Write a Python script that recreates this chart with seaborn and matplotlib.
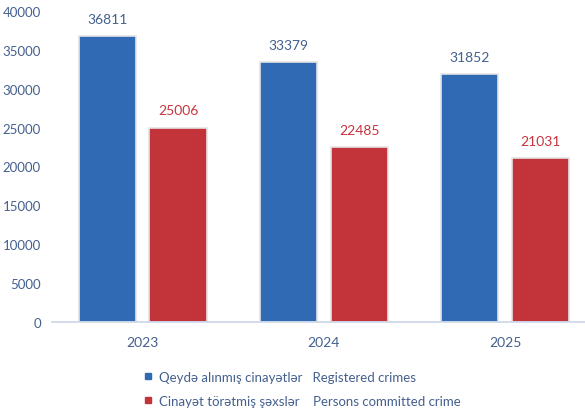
import matplotlib
matplotlib.use('Agg')
import matplotlib.pyplot as plt
from matplotlib.lines import Line2D
import numpy as np
import pandas as pd
import seaborn as sns

years = ['2023', '2024', '2025']
registered = [36811, 33379, 31852]
persons = [25006, 22485, 21031]
series_names = ['Qeydə alınmış cinayətlər   Registered crimes',
                'Cinayət törətmiş şəxslər    Persons committed crime']

df = pd.DataFrame({
    'year': years * 2,
    'value': registered + persons,
    'series': [series_names[0]] * 3 + [series_names[1]] * 3,
})

sns.set_style('white')
plt.rcParams['font.family'] = ['Lato', 'DejaVu Sans']

blue = '#316ab4'
red = '#c2343a'
text_blue = '#44608e'
text_red = '#c8343c'

fig = plt.figure(figsize=(5.85, 4.14), dpi=100)
ax = fig.add_axes([0.089, 0.22, 0.92, 0.751])

sns.barplot(data=df, x='year', y='value', hue='series', palette=[blue, red],
            saturation=1, width=0.78, gap=0.19, ax=ax, legend=False,
            edgecolor='#e4e4e4', linewidth=1.2)

for cont, col in zip(ax.containers, [text_blue, text_red]):
    ax.bar_label(cont, padding=8, color=col, fontsize=10)

ax.set_ylim(0, 40000)
ax.set_xlim(-0.5, 2.47)
ax.set_yticks(range(0, 40001, 5000))
ax.tick_params(axis='y', length=0, labelsize=9.5, labelcolor=text_blue, pad=8)
ax.tick_params(axis='x', length=0, labelsize=10, labelcolor=text_blue, pad=10)
ax.set_xlabel('')
ax.set_ylabel('')
for s in ['top', 'right', 'left']:
    ax.spines[s].set_visible(False)
ax.spines['bottom'].set_color('#c9d5e8')
ax.spines['bottom'].set_linewidth(1.2)

handles = [Line2D([], [], marker='s', linestyle='', color=c, markersize=5)
           for c in [blue, red]]
leg = fig.legend(handles, series_names, loc='center', bbox_to_anchor=(0.515, 0.058),
                 frameon=False, fontsize=9.5, labelspacing=0.9, handletextpad=0.3,
                 handlelength=1.0)
for t in leg.get_texts():
    t.set_color(text_blue)

fig.savefig('out.png', dpi=100)
